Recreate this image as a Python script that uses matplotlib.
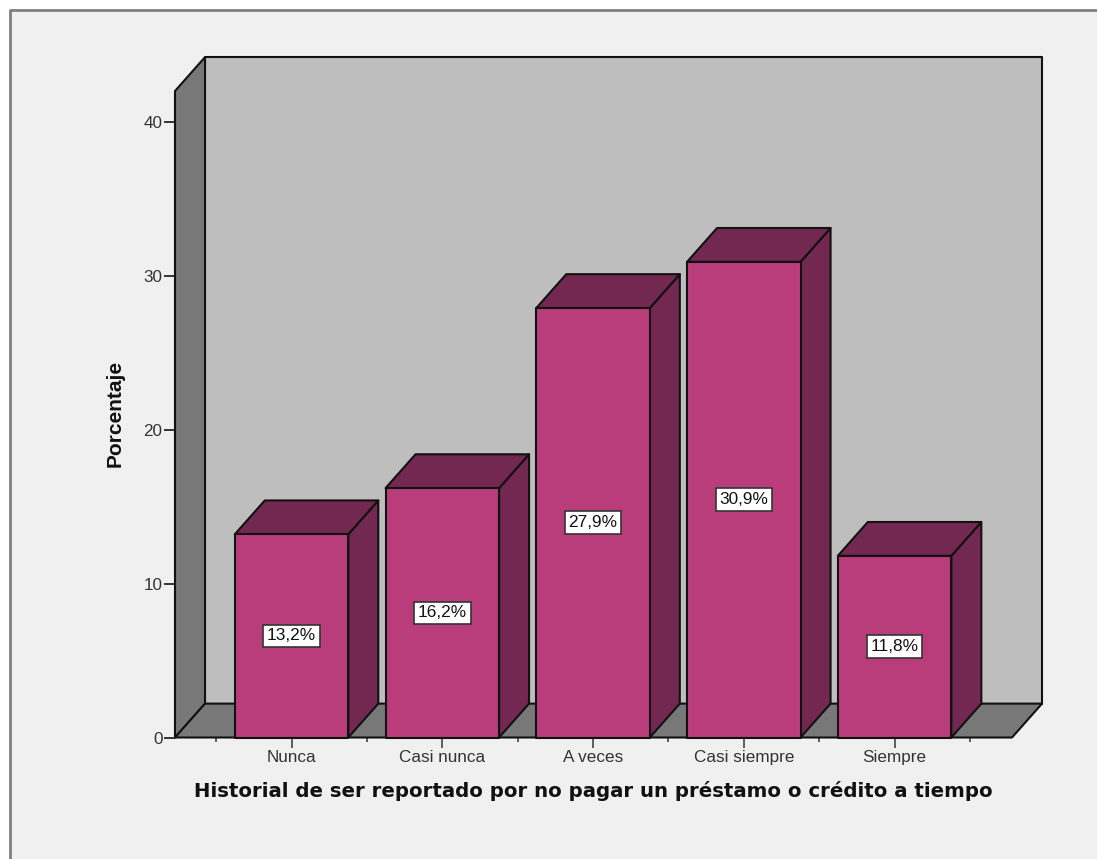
import matplotlib
matplotlib.use("Agg")
import matplotlib.pyplot as plt
from matplotlib.patches import Polygon, Rectangle
from matplotlib.ticker import FixedLocator

categories = ["Nunca", "Casi nunca", "A veces", "Casi siempre", "Siempre"]
percentages = [13.2, 16.2, 27.9, 30.9, 11.8]
value_labels = ["13,2%", "16,2%", "27,9%", "30,9%", "11,8%"]
y_ticks = [0, 10, 20, 30, 40]

W, H = 1097, 859
BG = "#f0f0f0"
WALL = "#bebebe"
FLOOR = "#787878"
FRONT = "#b93d7b"
SHADE = "#722850"

# depth of the 3D box, in data units
DX, DY = 0.199, 2.2
BAR_W = 0.753
XMIN, XMAX = -0.773, 4.779
YMAX = 42.0


def face(ax, pts, color, z):
    ax.add_patch(Polygon(pts, closed=True, facecolor=color, edgecolor="#111111",
                         linewidth=1.5, joinstyle="round", clip_on=False, zorder=z))


fig = plt.figure(figsize=(W / 100, H / 100), dpi=100, facecolor="white")

# panel with a grey frame on the top and left only
fig.add_artist(Rectangle((10 / W, 0), 1 - 10 / W, 1 - 10 / H, transform=fig.transFigure,
                         facecolor=BG, edgecolor="none", zorder=-2))
fig.add_artist(plt.Line2D([10 / W, 10 / W, 1], [0, 1 - 10 / H, 1 - 10 / H],
                          color="#7f7f7f", linewidth=2, zorder=-1))

ax = fig.add_axes([175 / W, 1 - 737.5 / H, (1012 - 175) / W, (737.5 - 91) / H])
ax.set_xlim(XMIN, XMAX)
ax.set_ylim(0, YMAX)
ax.patch.set_visible(False)
for s in ax.spines.values():
    s.set_visible(False)

# walls and floor of the box
face(ax, [(XMIN + DX, DY), (XMAX + DX, DY), (XMAX + DX, YMAX + DY), (XMIN + DX, YMAX + DY)], WALL, 1)
face(ax, [(XMIN, 0), (XMIN + DX, DY), (XMIN + DX, YMAX + DY), (XMIN, YMAX)], FLOOR, 2)
face(ax, [(XMIN, 0), (XMAX, 0), (XMAX + DX, DY), (XMIN + DX, DY)], FLOOR, 2)

for i, v in enumerate(percentages):
    l, r = i - BAR_W / 2, i + BAR_W / 2
    z = 3 + i
    face(ax, [(r, 0), (r + DX, DY), (r + DX, v + DY), (r, v)], SHADE, z)
    face(ax, [(l, v), (r, v), (r + DX, v + DY), (l + DX, v + DY)], SHADE, z)
    face(ax, [(l, 0), (r, 0), (r, v), (l, v)], FRONT, z)
    ax.text(i, v / 2, value_labels[i], ha="center", va="center", fontsize=12.4,
            family="Liberation Sans", color="#111111", zorder=20,
            bbox=dict(boxstyle="square,pad=0.22", facecolor="white", edgecolor="#333333", linewidth=1.2))

ax.set_xticks(range(len(categories)))
ax.set_xticklabels(categories, family="Liberation Sans", fontsize=12.3, color="#333333")
ax.xaxis.set_minor_locator(FixedLocator([i - 0.5 for i in range(len(categories) + 1)]))
ax.tick_params(axis="x", which="major", length=7, width=1.2, color="#444444", pad=2)
ax.tick_params(axis="x", which="minor", length=3, width=1.2, color="#444444")
ax.set_yticks(y_ticks)
ax.set_yticklabels([str(t) for t in y_ticks], family="Liberation Sans", fontsize=12.3, color="#333333")
ax.tick_params(axis="y", length=8, width=1.4, color="#333333", pad=1)

fig.text(593 / W, 1 - 791 / H, "Historial de ser reportado por no pagar un préstamo o crédito a tiempo",
         ha="center", va="center", family="DejaVu Sans", fontweight="bold", fontsize=14.25, color="#111111")
fig.text(115 / W, 1 - 413 / H, "Porcentaje", ha="center", va="center", rotation=90,
         family="Liberation Sans", fontweight="bold", fontsize=15, color="#111111")

fig.savefig("out.png", dpi=100, facecolor="white")
